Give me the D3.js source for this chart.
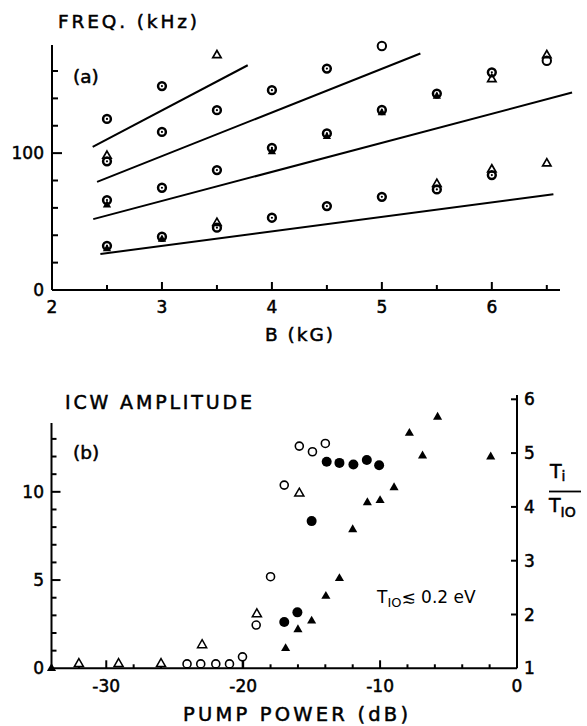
<!DOCTYPE html>
<html>
<head>
<meta charset="utf-8">
<script src="https://cdn.jsdelivr.net/npm/d3@7"></script>
<style>
  body { margin: 0; background: #fff; }
  svg { display: block; font-family: "DejaVu Sans", Verdana, sans-serif; }
  .ax { stroke: #000; stroke-width: 2; fill: none; }
  .lbl { fill: #000; }
  .ttl { fill: #000; stroke: #000; stroke-width: 0.5; }
</style>
</head>
<body>
<svg width="587" height="726"></svg>
<script>
// ---- panel (a): frequency vs B ----
const bTicks = [2, 3, 4, 5, 6];
const freqTicks = [0, 100];
// circles with centre dot [B (kG), f (kHz)]
const dotCircles = [
  [2.5, 125], [2.5, 94], [2.5, 65.7], [2.5, 32.3],
  [3, 149], [3, 115.5], [3, 74.7], [3, 38.9],
  [3.5, 131.4], [3.5, 87.6], [3.5, 45.5],
  [4, 146], [4, 103.9], [4, 52.8],
  [4.5, 161.8], [4.5, 114.4], [4.5, 61.3],
  [5, 131.5], [5, 68.1],
  [5.5, 143.5], [5.5, 73.5],
  [6, 159], [6, 84]
];
const openCirclesA = [[5, 178.3], [6.5, 167.5]];
const openTrianglesA = [[2.5, 98], [3.5, 171.5], [3.5, 49], [5.5, 77.5], [6, 154], [6, 88], [6.5, 171.5], [6.5, 92.5]];
const filledTrianglesA = [[2.5, 62], [2.5, 30], [3, 37], [4, 101], [4.5, 112], [5, 129.5], [5.5, 141.5]];
// harmonic lines [B0, f0, B1, f1]
const harmonicLines = [
  [2.37, 104.6, 3.78, 164.2],
  [2.41, 79, 5.35, 172.8],
  [2.375, 51.8, 6.73, 144.3],
  [2.44, 26.3, 6.56, 69.9]
];

// ---- panel (b): ICW amplitude vs pump power ----
const powerTicks = [-30, -20, -10, 0];
const ampTicks = [0, 5, 10];
const ratioTicks = [1, 2, 3, 4, 5, 6];
const ampOpenCircles = [
  [-24.1, 0.25], [-23.1, 0.25], [-22, 0.25], [-21, 0.25],
  [-19.05, 2.45], [-18, 5.19], [-17, 10.38],
  [-15.9, 12.59], [-14.94, 12.27], [-14, 12.74]
];
const ampStemCircles = [[-20.05, 0.65]];
const ampOpenTriangles = [[-32, 0.25], [-29.1, 0.25], [-26, 0.25], [-23, 1.32], [-19, 3.07], [-15.9, 9.91]];
const ampFilledCircles = [
  [-17, 2.62], [-16.04, 3.17], [-15, 8.34],
  [-13.9, 11.7], [-12.97, 11.64], [-11.95, 11.55], [-10.97, 11.8], [-10.07, 11.51]
];
// Ti/Ti0 (right axis)
const ratioFilledTriangles = [
  [-34, 1.0], [-16.9, 1.37], [-16, 1.72], [-15, 1.88], [-13.96, 2.34], [-12.97, 2.67],
  [-12, 3.58], [-10.93, 4.08], [-10, 4.12], [-8.98, 4.36], [-7.86, 5.37], [-6.9, 4.95],
  [-5.8, 5.67], [-1.92, 4.93]
];

const svg = d3.select('svg');

// ================= panel (a) =================
const xA = d3.scaleLinear().domain([2, 6.62]).range([52, 560]);
const yA = d3.scaleLinear().domain([0, 179]).range([290, 45]);
const gA = svg.append('g');

// axes lines
gA.append('line').attr('class', 'ax').attr('x1', xA(2)).attr('x2', xA(6.62)).attr('y1', yA(0)).attr('y2', yA(0));
gA.append('line').attr('class', 'ax').attr('x1', xA(2)).attr('x2', xA(2)).attr('y1', yA(0)).attr('y2', yA(179));

// x ticks (inward)
d3.range(2.5, 6.6, 0.5).forEach(v => {
  const major = Math.abs(v - Math.round(v)) < 1e-6;
  gA.append('line').attr('class', 'ax').attr('stroke-width', 1.6)
    .attr('x1', xA(v)).attr('x2', xA(v)).attr('y1', yA(0)).attr('y2', yA(0) - (major ? 8 : 5));
});
// y ticks
d3.range(20, 179, 20).forEach(v => {
  gA.append('line').attr('class', 'ax').attr('stroke-width', 1.6)
    .attr('x1', xA(2)).attr('x2', xA(2) + (v === 100 ? 10 : 6)).attr('y1', yA(v)).attr('y2', yA(v));
});
gA.selectAll('.xl').data(bTicks).enter().append('text')
  .attr('class', 'ttl').attr('x', d => xA(d)).attr('y', 313)
  .attr('text-anchor', 'middle').attr('font-size', 17).text(d => d);
gA.selectAll('.yl').data(freqTicks).enter().append('text')
  .attr('class', 'ttl').attr('x', 44).attr('y', d => yA(d) + 6)
  .attr('text-anchor', 'end').attr('font-size', 17).text(d => d);

gA.append('text').attr('class', 'ttl').attr('x', 58).attr('y', 28)
  .attr('font-size', 18.5)
  .attr('textLength', 139).attr('lengthAdjust', 'spacing').text('FREQ.  (kHz)');
gA.append('text').attr('class', 'ttl').attr('x', 73).attr('y', 83)
  .attr('font-size', 18.5).text('(a)');
gA.append('text').attr('class', 'ttl').attr('x', 265).attr('y', 341)
  .attr('font-size', 18.5)
  .attr('textLength', 68).attr('lengthAdjust', 'spacing').text('B (kG)');

// lines
gA.selectAll('.hl').data(harmonicLines).enter().append('line')
  .attr('stroke', '#000').attr('stroke-width', 2)
  .attr('x1', d => xA(d[0])).attr('y1', d => yA(d[1]))
  .attr('x2', d => xA(d[2])).attr('y2', d => yA(d[3]));

const triA = d3.symbol().type(d3.symbolTriangle).size(30);
gA.selectAll('.ft').data(filledTrianglesA).enter().append('path')
  .attr('d', triA).attr('fill', '#000')
  .attr('transform', d => `translate(${xA(d[0])},${yA(d[1])})`);
gA.selectAll('.ot').data(openTrianglesA).enter().append('path')
  .attr('d', triA).attr('fill', 'none').attr('stroke', '#000').attr('stroke-width', 1.7)
  .attr('transform', d => `translate(${xA(d[0])},${yA(d[1])})`);
gA.selectAll('.dc').data(dotCircles).enter().append('circle')
  .attr('cx', d => xA(d[0])).attr('cy', d => yA(d[1])).attr('r', 3.9)
  .attr('fill', 'none').attr('stroke', '#000').attr('stroke-width', 2.5);
gA.selectAll('.dd').data(dotCircles).enter().append('circle')
  .attr('cx', d => xA(d[0])).attr('cy', d => yA(d[1])).attr('r', 1.1).attr('fill', '#000');
gA.selectAll('.oc').data(openCirclesA).enter().append('circle')
  .attr('cx', d => xA(d[0])).attr('cy', d => yA(d[1])).attr('r', 4.2)
  .attr('fill', 'none').attr('stroke', '#000').attr('stroke-width', 2);

// ================= panel (b) =================
const xB = d3.scaleLinear().domain([-34, 0]).range([51.5, 517]);
const yB = d3.scaleLinear().domain([0, 13.9]).range([668.3, 423]);
const yR = d3.scaleLinear().domain([1, 6]).range([668.3, 399.3]);
const gB = svg.append('g');

gB.append('line').attr('class', 'ax').attr('x1', xB(-34)).attr('x2', xB(0)).attr('y1', yB(0)).attr('y2', yB(0));
gB.append('line').attr('class', 'ax').attr('x1', xB(-34)).attr('x2', xB(-34)).attr('y1', yB(0)).attr('y2', yB(13.9));
gB.append('line').attr('class', 'ax').attr('x1', xB(0)).attr('x2', xB(0)).attr('y1', yR(1)).attr('y2', yR(6.08));

// x ticks every 2 dB
d3.range(-32, 0, 2).forEach(v => {
  const major = v % 10 === 0;
  gB.append('line').attr('class', 'ax').attr('stroke-width', 1.5)
    .attr('x1', xB(v)).attr('x2', xB(v)).attr('y1', yB(0)).attr('y2', yB(0) - (major ? 8 : 4));
});
// left ticks every 1
d3.range(1, 14).forEach(v => {
  const major = v % 5 === 0;
  gB.append('line').attr('class', 'ax').attr('stroke-width', 1.5)
    .attr('x1', xB(-34)).attr('x2', xB(-34) + (major ? 9 : 5)).attr('y1', yB(v)).attr('y2', yB(v));
});
// right ticks
ratioTicks.slice(1).forEach(v => {
  gB.append('line').attr('class', 'ax').attr('stroke-width', 1.5)
    .attr('x1', xB(0)).attr('x2', xB(0) - 6).attr('y1', yR(v)).attr('y2', yR(v));
});

gB.selectAll('.xl').data(powerTicks).enter().append('text')
  .attr('class', 'ttl').attr('x', d => xB(d)).attr('y', 692)
  .attr('text-anchor', 'middle').attr('font-size', 17).text(d => d === 0 ? '0' : '-' + Math.abs(d));
gB.selectAll('.yl').data(ampTicks).enter().append('text')
  .attr('class', 'ttl').attr('x', 44).attr('y', d => yB(d) + 6)
  .attr('text-anchor', 'end').attr('font-size', 17).text(d => d);
gB.selectAll('.rl').data(ratioTicks).enter().append('text')
  .attr('class', 'ttl').attr('x', 524).attr('y', d => yR(d) + 6)
  .attr('font-size', 17).text(d => d);

gB.append('text').attr('class', 'ttl').attr('x', 65).attr('y', 409)
  .attr('font-size', 19)
  .attr('textLength', 187).attr('lengthAdjust', 'spacing').text('ICW AMPLITUDE');
gB.append('text').attr('class', 'ttl').attr('x', 73).attr('y', 459)
  .attr('font-size', 18.5).text('(b)');
gB.append('text').attr('class', 'ttl').attr('x', 183).attr('y', 721)
  .attr('font-size', 19.5)
  .attr('textLength', 225).attr('lengthAdjust', 'spacing').text('PUMP  POWER  (dB)');

// Ti / Ti0 label
const frac = gB.append('g');
const t1 = frac.append('text').attr('class', 'ttl').attr('x', 550).attr('y', 478).attr('font-size', 19);
t1.append('tspan').text('T');
t1.append('tspan').attr('font-size', 14).attr('dy', 3).text('i');
frac.append('line').attr('stroke', '#000').attr('stroke-width', 1.8)
  .attr('x1', 549).attr('x2', 581).attr('y1', 491.5).attr('y2', 491.5);
const t2 = frac.append('text').attr('class', 'ttl').attr('x', 549).attr('y', 512).attr('font-size', 19);
t2.append('tspan').text('T');
t2.append('tspan').attr('font-size', 14).attr('dy', 5).text('IO');

// annotation
const ann = gB.append('text').attr('class', 'lbl').attr('x', 377).attr('y', 603).attr('font-size', 17);
ann.append('tspan').text('T');
ann.append('tspan').attr('font-size', 13).attr('dy', 4).text('IO');
ann.append('tspan').attr('dy', -4).text('\u2272 0.2 eV');

// marks
const triB = d3.symbol().type(d3.symbolTriangle).size(36);
gB.selectAll('.sl').data(ampStemCircles).enter().append('line')
  .attr('stroke', '#000').attr('stroke-width', 1.6)
  .attr('x1', d => xB(d[0])).attr('x2', d => xB(d[0]))
  .attr('y1', d => yB(d[1]) + 4).attr('y2', yB(0));
gB.selectAll('.oc').data(ampOpenCircles.concat(ampStemCircles)).enter().append('circle')
  .attr('cx', d => xB(d[0])).attr('cy', d => yB(d[1])).attr('r', 4)
  .attr('fill', '#fff').attr('stroke', '#000').attr('stroke-width', 1.6);
gB.selectAll('.ot').data(ampOpenTriangles).enter().append('path')
  .attr('d', triB).attr('fill', '#fff').attr('stroke', '#000').attr('stroke-width', 1.5)
  .attr('transform', d => `translate(${xB(d[0])},${yB(d[1])})`);
gB.selectAll('.fc').data(ampFilledCircles).enter().append('circle')
  .attr('cx', d => xB(d[0])).attr('cy', d => yB(d[1])).attr('r', 5).attr('fill', '#000');
gB.selectAll('.ft').data(ratioFilledTriangles).enter().append('path')
  .attr('d', triB).attr('fill', '#000')
  .attr('transform', d => `translate(${xB(d[0])},${yR(d[1])})`);
</script>
</body>
</html>
